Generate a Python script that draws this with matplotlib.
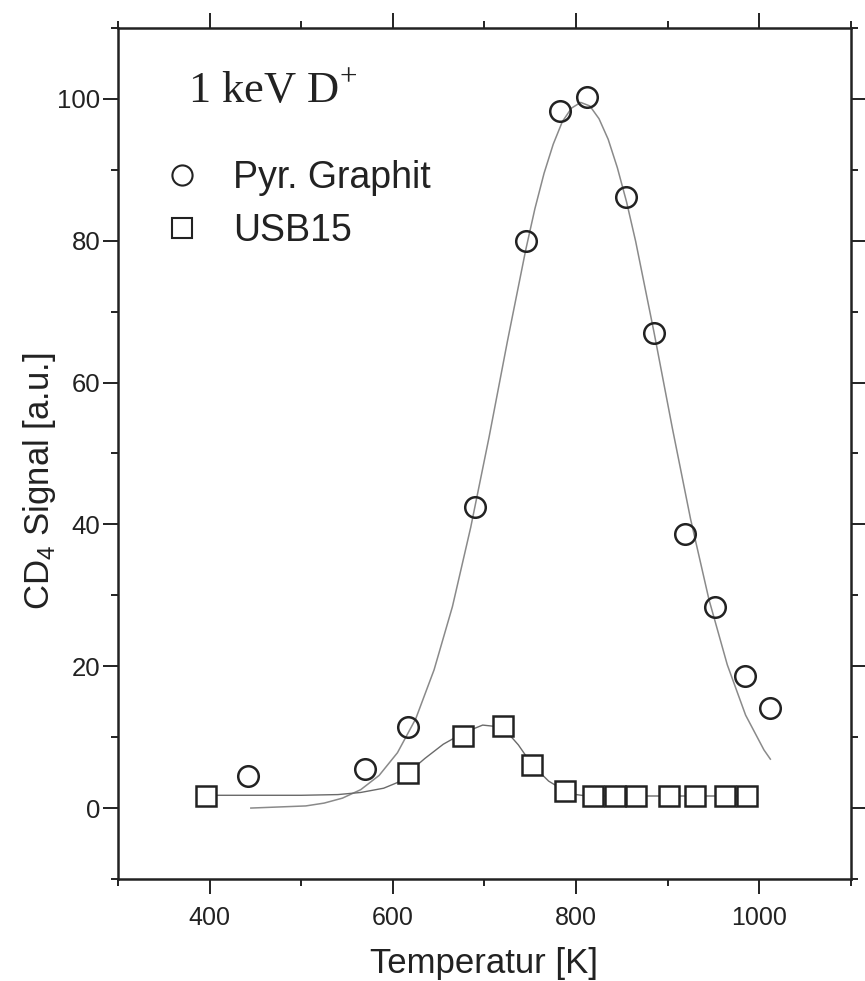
import matplotlib
matplotlib.use("Agg")
import matplotlib.pyplot as plt
from matplotlib.ticker import MultipleLocator

# measured points
T_pyr = [442, 570, 617, 690, 745, 782, 812, 854, 885, 919, 952, 984, 1012]
S_pyr = [4.5, 5.5, 11.4, 42.5, 80.0, 98.3, 100.2, 86.2, 67.0, 38.6, 28.3, 18.6, 14.1]

T_usb = [396, 616, 677, 720, 752, 788, 818, 842, 865, 901, 930, 962, 986]
S_usb = [1.7, 4.9, 10.2, 11.6, 6.1, 2.4, 1.7, 1.7, 1.7, 1.7, 1.7, 1.7, 1.7]

# guide curves
fit_T = [445, 465, 485, 505, 525, 545, 565, 585, 605, 625, 645, 665, 685, 705,
         725, 745, 755, 765, 775, 785, 795, 805, 815, 825, 835, 845, 855, 865,
         885, 905, 925, 945, 965, 985, 1005, 1012]
fit_S = [0.0, 0.1, 0.2, 0.3, 0.7, 1.4, 2.6, 4.6, 7.8, 12.6, 19.5, 28.4, 39.6, 52.3,
         65.8, 78.7, 84.5, 89.5, 93.6, 96.8, 98.7, 99.5, 99.0, 97.2, 94.3, 90.3, 85.5, 79.9,
         67.1, 53.6, 40.7, 29.4, 20.2, 13.1, 8.2, 6.9]

usb_fit_T = [396, 450, 500, 540, 565, 590, 605, 616, 635, 655, 677, 698, 720,
             737, 752, 770, 788, 800, 812, 830, 986]
usb_fit_S = [1.8, 1.8, 1.8, 1.9, 2.2, 2.8, 3.6, 4.9, 7.0, 9.0, 10.6, 11.7, 11.4,
             8.9, 6.1, 3.8, 2.4, 1.9, 1.7, 1.7, 1.7]

plt.rcParams['font.family'] = ['Liberation Sans', 'DejaVu Sans']

fig = plt.figure(figsize=(8.65, 9.81), dpi=100)
ax = fig.add_axes([0.1364, 0.1040, 0.8474, 0.8675])

ax.plot(fit_T, fit_S, color='#8a8a8a', lw=1.1, zorder=2)
ax.plot(usb_fit_T, usb_fit_S, color='#6a6a6a', lw=1.0, zorder=2)

ax.plot(T_pyr, S_pyr, ls='none', marker='o', ms=14.8, mfc='none',
        mec='#222222', mew=1.8, zorder=3, label='Pyr. Graphit')
ax.plot(T_usb, S_usb, ls='none', marker='s', ms=14.0, mfc='white',
        mec='#222222', mew=1.8, zorder=3, label='USB15')

ax.set_xlim(300, 1100)
ax.set_ylim(-10, 110)
ax.xaxis.set_minor_locator(MultipleLocator(100))
ax.yaxis.set_minor_locator(MultipleLocator(10))
ax.set_xticks([400, 600, 800, 1000])
ax.set_yticks([0, 20, 40, 60, 80, 100])

for sp in ax.spines.values():
    sp.set_linewidth(1.8)
    sp.set_color('#222222')

ax.tick_params(which='both', direction='out', top=True, right=True,
               width=1.4, color='#222222')
ax.tick_params(which='major', length=10.8)
ax.tick_params(which='minor', length=5)
ax.tick_params(axis='x', which='major', labelsize=18, pad=9, labelcolor='#222222')
ax.tick_params(axis='y', which='major', labelsize=18.5, pad=2, labelcolor='#222222')

ax.set_xlabel('Temperatur [K]', fontsize=25, color='#222222', labelpad=12)
ax.set_ylabel(r'CD$_\mathregular{4}$ Signal [a.u.]', fontsize=25, color='#222222')
ax.yaxis.set_label_coords(-0.082, 0.468, transform=ax.transAxes)

ax.text(0.0955, 0.913, r'1 keV D$^\mathregular{+}$', transform=ax.transAxes,
        family=['Liberation Serif', 'DejaVu Serif'], fontsize=32,
        va='baseline', ha='left', color='#222222')

leg = ax.legend(loc='upper left', bbox_to_anchor=(0.062, 0.845), frameon=False,
                fontsize=27, handlelength=1.0, handletextpad=0.85,
                borderpad=0, borderaxespad=0, labelspacing=0.47)
for t in leg.get_texts():
    t.set_color('#222222')
for h, ms in zip(leg.legend_handles, [14.5, 14.5]):
    h.set_markersize(ms)
    h.set_markeredgewidth(1.5)
    h.set_markerfacecolor('none')

fig.savefig('out.png', dpi=100, facecolor='white')
